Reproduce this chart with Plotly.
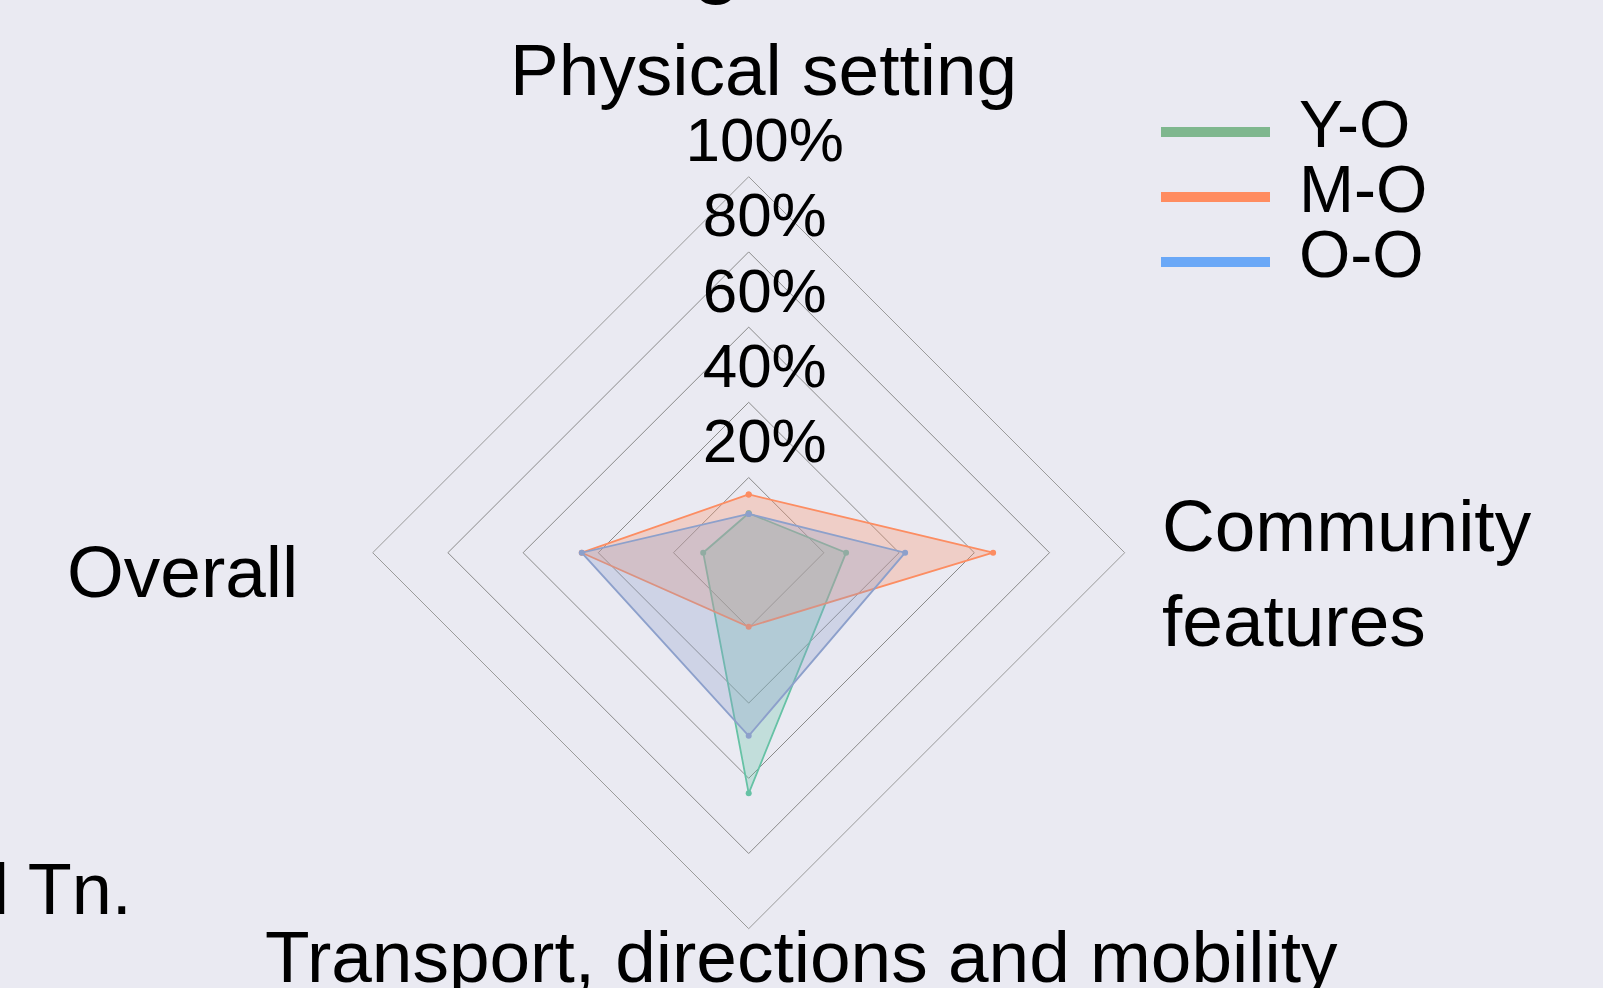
import plotly.graph_objects as go

# ---------------- data ----------------
categories = ["Physical setting", "Community features",
              "Transport, directions and mobility", "Overall"]
series_names = ["Y-O", "M-O", "O-O"]
yo_values = [0.105, 0.259, 0.640, 0.121]
mo_values = [0.155, 0.650, 0.197, 0.444]
oo_values = [0.103, 0.416, 0.487, 0.444]
radial_ticks = [0.2, 0.4, 0.6, 0.8, 1.0]
radial_tick_labels = ["20%", "40%", "60%", "80%", "100%"]
panel_title = "Village"
row_label = "Small Tn."

# ---------------- styling ----------------
W, H = 1603, 988
BG = "#EAEAF2"
FONT = "Liberation Sans, Arial, sans-serif"
line_colors = ["#66c2a5", "#fc8d62", "#8da0cb"]
fill_colors = ["rgba(102,194,165,0.30)", "rgba(252,141,98,0.30)", "rgba(141,160,203,0.30)"]
legend_colors = ["#7fb78e", "#ff8c60", "#6aa8f7"]

# polar geometry in pixels
CX, CY, R = 748.7, 552.7, 376.0
TICK_LABEL_SHIFT = 16  # radial tick labels sit slightly right of the spoke


def px_x(p):
    return p / W


def px_y(p):
    return 1 - p / H


fig = go.Figure()

for name, vals, lc, fc in zip(series_names, [yo_values, mo_values, oo_values],
                              line_colors, fill_colors):
    fig.add_trace(go.Scatterpolar(
        r=vals + vals[:1],
        theta=categories + categories[:1],
        mode="lines+markers",
        name=name,
        line=dict(color=lc, width=1.8),
        marker=dict(color=lc, size=6),
        fill="toself",
        fillcolor=fc,
        showlegend=False,
    ))

# radial tick labels drawn along the top spoke (on an overlaid, invisible polar)
fig.add_trace(go.Scatterpolar(
    r=radial_ticks,
    theta=[categories[0]] * len(radial_ticks),
    mode="text",
    text=radial_tick_labels,
    textposition="top center",
    textfont=dict(size=62, color="black", family=FONT),
    cliponaxis=False,
    showlegend=False,
    hoverinfo="skip",
    subplot="polar2",
))

fig.update_layout(
    width=W, height=H, autosize=False,
    margin=dict(l=0, r=0, t=0, b=0),
    paper_bgcolor=BG,
    font=dict(family=FONT, color="black"),
    showlegend=False,
    polar=dict(
        domain=dict(x=[px_x(CX - R), px_x(CX + R)], y=[px_y(CY + R), px_y(CY - R)]),
        bgcolor=BG,
        gridshape="linear",
        radialaxis=dict(
            range=[0, 1],
            tickvals=radial_ticks,
            showticklabels=False,
            ticks="",
            showline=False,
            gridcolor="#8a8a8a",
            gridwidth=1,
        ),
        angularaxis=dict(
            rotation=90,
            direction="clockwise",
            categoryarray=categories,
            categoryorder="array",
            showgrid=False,
            showline=True,
            linecolor="#9a9a9a",
            linewidth=1,
            showticklabels=False,
            ticks="",
        ),
    ),
    polar2=dict(
        domain=dict(x=[px_x(CX - R + TICK_LABEL_SHIFT), px_x(CX + R + TICK_LABEL_SHIFT)],
                    y=[px_y(CY + R), px_y(CY - R)]),
        bgcolor="rgba(0,0,0,0)",
        gridshape="linear",
        radialaxis=dict(range=[0, 1], visible=False),
        angularaxis=dict(rotation=90, direction="clockwise",
                         categoryarray=categories, categoryorder="array",
                         visible=False),
    ),
)

# category labels around the diamond
LABEL_SIZE = 73
cat_label_specs = [
    # text, x(px), y(px, cap centre), xanchor
    (categories[0], CX + 15, CY - 483, "center"),
    ("Community<br>features", CX + 411, CY + 20, "left"),
    (categories[2], CX + 53, CY + 404, "center"),
    (categories[3], CX - 449, CY + 19, "right"),
]
for txt, xx, yy, xa in cat_label_specs:
    fig.add_annotation(x=px_x(xx), y=px_y(yy), xref="paper", yref="paper",
                       text=txt, showarrow=False, xanchor=xa, yanchor="middle",
                       align="left",
                       font=dict(size=LABEL_SIZE, color="black", family=FONT))

# legend drawn as line samples + labels
leg_x0, leg_x1, leg_text_x = 1161, 1270, 1297
leg_y0, leg_step = 132, 65
for i, (name, col) in enumerate(zip(series_names, legend_colors)):
    yy = leg_y0 + i * leg_step
    fig.add_shape(type="line", xref="paper", yref="paper",
                  x0=px_x(leg_x0), x1=px_x(leg_x1), y0=px_y(yy), y1=px_y(yy),
                  line=dict(color=col, width=10))
    fig.add_annotation(x=px_x(leg_text_x), y=px_y(yy - 8), xref="paper", yref="paper",
                       text=name, showarrow=False, xanchor="left", yanchor="middle",
                       font=dict(size=66, color="black", family=FONT))

# panel title (mostly above the visible area)
fig.add_annotation(x=px_x(521), y=px_y(7), xref="paper", yref="paper",
                   text=panel_title, showarrow=False, xanchor="left", yanchor="bottom",
                   font=dict(size=90, color="black", family=FONT))

# row label, partly cut at the left edge
fig.add_annotation(x=px_x(134), y=px_y(889), xref="paper", yref="paper",
                   text=row_label, showarrow=False, xanchor="right", yanchor="middle",
                   font=dict(size=72, color="black", family=FONT))

fig.write_html(
    "out.html",
    config={"displayModeBar": False},
    post_script="document.body.style.margin='0';document.body.style.overflow='hidden';",
)
